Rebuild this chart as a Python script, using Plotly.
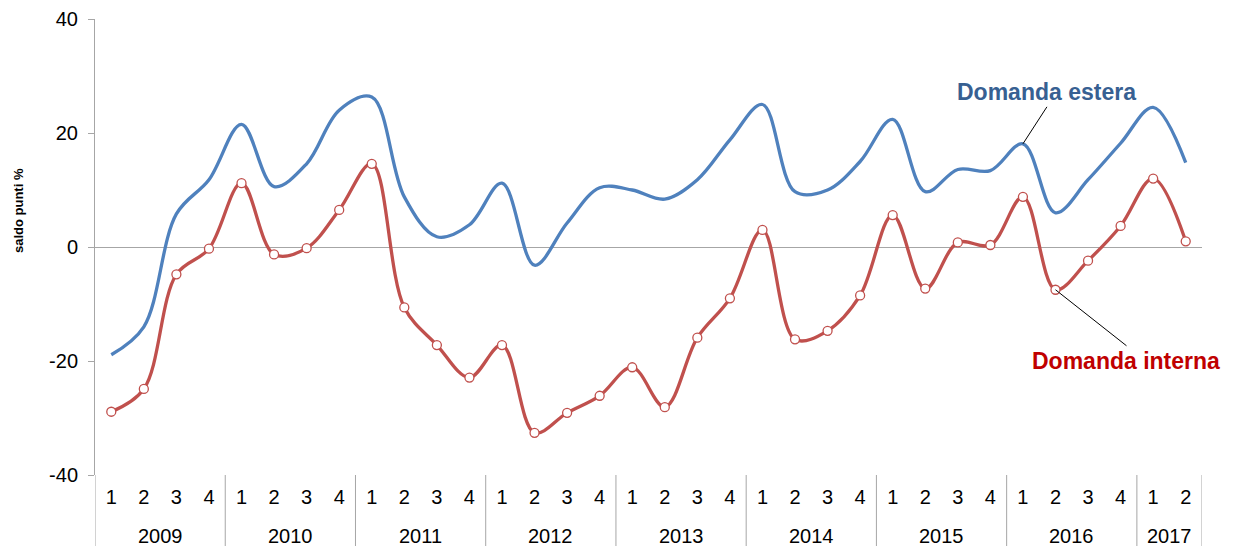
import plotly.graph_objects as go

years = ["2009", "2010", "2011", "2012", "2013", "2014", "2015", "2016", "2017"]
quarters_per_year = [4, 4, 4, 4, 4, 4, 4, 4, 2]

domanda_estera = [
    -18.9, -14.0, 5.8, 11.8,
    21.5, 10.6, 14.6, 24.0,
    26.3, 8.8, 1.8, 3.9,
    11.2, -3.2, 4.2, 10.4,
    10.0, 8.4, 11.8, 18.8,
    25.0, 9.7, 10.0, 15.0,
    22.4, 9.7, 13.6, 13.4,
    18.1, 6.0, 11.8, 18.2,
    24.5, 14.8,
]
domanda_interna = [
    -28.9, -24.9, -4.8, -0.3,
    11.2, -1.3, -0.2, 6.5,
    14.6, -10.6, -17.2, -22.9,
    -17.2, -32.6, -29.1, -26.1,
    -21.1, -28.1, -15.9, -9.0,
    3.0, -16.2, -14.7, -8.5,
    5.6, -7.3, 0.8, 0.35,
    8.8, -7.5, -2.4, 3.7,
    12.0, 1.0,
]
y_ticks = [-40, -20, 0, 20, 40]
y_ticktext = ["-40", "-20", "0", "20", "40"]

# quarter labels and positions derived from the lists above
x_year, x_q = [], []
for y, n in zip(years, quarters_per_year):
    for q in range(1, n + 1):
        x_year.append(y)
        x_q.append(str(q))
x_idx = list(range(len(x_q)))

BLUE = "#4F81BD"
RED = "#C0504D"
GREY = "#A6A6A6"
FONT = "Liberation Sans, Arial, sans-serif"

fig = go.Figure()
fig.add_trace(go.Scatter(
    x=x_idx, y=domanda_estera, mode="lines", name="Domanda estera",
    line=dict(color=BLUE, width=3.3, shape="spline", smoothing=1),
    showlegend=False, customdata=x_year,
))
fig.add_trace(go.Scatter(
    x=x_idx, y=domanda_interna, mode="lines+markers", name="Domanda interna",
    line=dict(color=RED, width=3.3, shape="spline", smoothing=1),
    marker=dict(size=9, color="white", line=dict(color=RED, width=1.3)),
    showlegend=False, customdata=x_year,
))

# year group labels and dividers
start = 0
bounds = [-0.5]
for y, n in zip(years, quarters_per_year):
    center = start + (n - 1) / 2
    fig.add_annotation(
        x=center, y=-0.134, xref="x", yref="paper", text=y, showarrow=False,
        yanchor="middle", font=dict(family=FONT, size=20, color="black"),
    )
    start += n
    bounds.append(start - 0.5)
for b in bounds:
    fig.add_shape(
        type="line", xref="x", yref="paper", x0=b, x1=b, y0=0, y1=-0.16,
        line=dict(color=GREY, width=1),
    )

# series labels
i_est = x_year.index("2016")          # 2016 Q1
i_int = x_year.index("2016") + 1      # 2016 Q2
fig.add_annotation(
    x=i_est, y=domanda_estera[i_est], xref="x", yref="y",
    text="<b>Domanda estera</b>", showarrow=True, arrowhead=0, arrowwidth=1,
    arrowcolor="black", ax=24, ay=-37, yanchor="bottom",
    font=dict(family=FONT, size=23, color="#376092"),
)
fig.add_annotation(
    x=i_int, y=domanda_interna[i_int], xref="x", yref="y",
    text="<b>Domanda interna</b>", showarrow=True, arrowhead=0, arrowwidth=1,
    arrowcolor="black", ax=71, ay=56, yanchor="top",
    font=dict(family=FONT, size=23, color="#C00000"),
)
fig.add_annotation(
    x=-0.0696, y=0.581, xref="paper", yref="paper",
    text="<b>saldo punti %</b>", textangle=-90, showarrow=False,
    xanchor="center", yanchor="middle",
    font=dict(family=FONT, size=13, color="black"),
)

fig.update_layout(
    width=1233, height=546,
    margin=dict(l=95, r=31, t=19, b=71, autoexpand=False),
    paper_bgcolor="white", plot_bgcolor="white",
    font=dict(family=FONT, size=20, color="black"),
)
fig.update_xaxes(
    range=[-0.5, len(x_q) - 0.5], tickmode="array", tickvals=x_idx, ticktext=x_q,
    showgrid=False, showline=False, zeroline=False, ticks="",
    tickfont=dict(size=20), automargin=False, ticklabelstandoff=8,
)
fig.update_yaxes(
    range=[-40, 40], tickvals=y_ticks, ticktext=y_ticktext, showgrid=False,
    showline=True, linecolor=GREY, linewidth=1,
    ticks="outside", ticklen=6, tickcolor=GREY,
    zeroline=True, zerolinecolor=GREY, zerolinewidth=1,
    tickfont=dict(size=20), automargin=False, ticklabelstandoff=6,
)

fig.write_html(
    "out.html",
    config={"displayModeBar": False},
    post_script="document.body.style.margin='0px';document.body.style.overflow='hidden';",
)
